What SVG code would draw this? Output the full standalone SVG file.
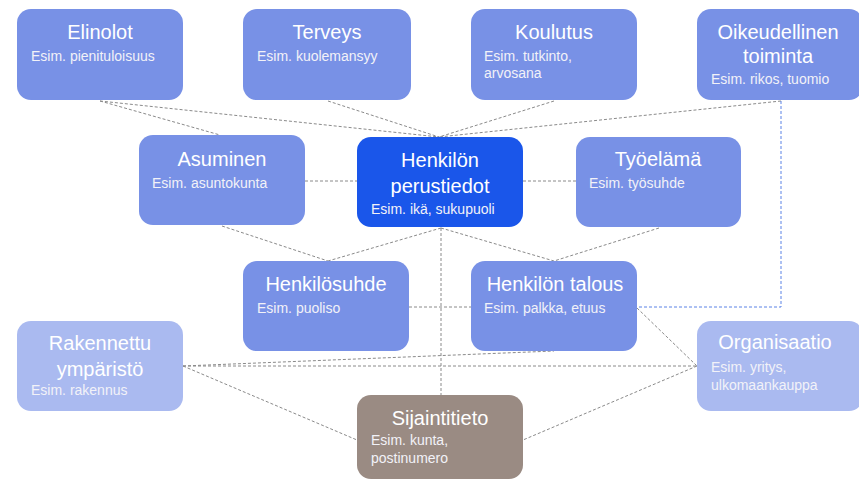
<svg xmlns="http://www.w3.org/2000/svg" width="859" height="480" viewBox="0 0 859 480">
<defs>
<style>
.box{stroke:none}
.mid{fill:#7891E6}
.dark{fill:#1A56EA}
.light{fill:#AABAF0}
.brown{fill:#9A8B83}
.t{font-family:"Liberation Sans",Arial,sans-serif;font-size:20px;fill:#ffffff;text-anchor:middle}
.s{font-family:"Liberation Sans",Arial,sans-serif;font-size:14px;fill:#F2F2F8}
.c{fill:none;stroke:#8A8A8A;stroke-width:1;stroke-dasharray:3 2}
.b{fill:none;stroke:#5A82E6;stroke-width:1;stroke-dasharray:3 2}
</style>
</defs>
<rect width="859" height="480" fill="#ffffff"/>
<g id="connectors">
<line class="c" x1="100" y1="101" x2="220" y2="135"/>
<line class="c" x1="100" y1="101" x2="439" y2="137"/>
<line class="c" x1="328" y1="101" x2="439" y2="137"/>
<line class="c" x1="554" y1="101" x2="439" y2="137"/>
<line class="c" x1="781" y1="101" x2="439" y2="137"/>
<line class="c" x1="305" y1="181" x2="357" y2="181"/>
<line class="c" x1="523" y1="181" x2="576" y2="181"/>
<line class="c" x1="222" y1="226" x2="328" y2="261"/>
<line class="c" x1="441" y1="228" x2="328" y2="261"/>
<line class="c" x1="441" y1="228" x2="554" y2="261"/>
<line class="c" x1="659" y1="228" x2="554" y2="261"/>
<line class="c" x1="441" y1="228" x2="441" y2="395"/>
<line class="c" x1="409" y1="307" x2="471" y2="307"/>
<line class="c" x1="183" y1="366" x2="554" y2="351"/>
<line class="c" x1="183" y1="366" x2="697" y2="366"/>
<line class="c" x1="183" y1="366" x2="357" y2="440"/>
<line class="c" x1="697" y1="366" x2="523" y2="440"/>
<line class="c" x1="637" y1="308" x2="697" y2="366"/>
<polyline class="b" points="781,101 781,307 637,307"/>
</g>
<g id="elinolot">
<rect class="box mid" x="17" y="9" width="166" height="91" rx="14"/>
<text class="t" x="100" y="39">Elinolot</text>
<text class="s" x="31" y="61">Esim. pienituloisuus</text>
</g>
<g id="terveys">
<rect class="box mid" x="243" y="9" width="168" height="91" rx="14"/>
<text class="t" x="327" y="39">Terveys</text>
<text class="s" x="257" y="61">Esim. kuolemansyy</text>
</g>
<g id="koulutus">
<rect class="box mid" x="471" y="9" width="166" height="91" rx="14"/>
<text class="t" x="554" y="39">Koulutus</text>
<text class="s" x="484" y="61">Esim. tutkinto,</text>
<text class="s" x="484" y="78">arvosana</text>
</g>
<g id="oikeudellinen">
<rect class="box mid" x="697" y="9" width="166" height="91" rx="14"/>
<text class="t" x="778" y="39">Oikeudellinen</text>
<text class="t" x="778" y="63">toiminta</text>
<text class="s" x="711" y="84">Esim. rikos, tuomio</text>
</g>
<g id="asuminen">
<rect class="box mid" x="139" y="135" width="166" height="90" rx="14"/>
<text class="t" x="222" y="166">Asuminen</text>
<text class="s" x="152" y="188">Esim. asuntokunta</text>
</g>
<g id="perustiedot">
<rect class="box dark" x="357" y="137" width="166" height="90" rx="14"/>
<text class="t" x="440" y="167">Henkilön</text>
<text class="t" x="440" y="193">perustiedot</text>
<text class="s" x="371" y="214">Esim. ikä, sukupuoli</text>
</g>
<g id="tyoelama">
<rect class="box mid" x="576" y="137" width="165" height="90" rx="14"/>
<text class="t" x="658" y="166">Työelämä</text>
<text class="s" x="589" y="188">Esim. työsuhde</text>
</g>
<g id="henkilosuhde">
<rect class="box mid" x="243" y="261" width="166" height="90" rx="14"/>
<text class="t" x="326" y="291">Henkilösuhde</text>
<text class="s" x="257" y="313">Esim. puoliso</text>
</g>
<g id="talous">
<rect class="box mid" x="471" y="261" width="166" height="90" rx="14"/>
<text class="t" x="555" y="291">Henkilön talous</text>
<text class="s" x="484" y="313">Esim. palkka, etuus</text>
</g>
<g id="rakennettu">
<rect class="box light" x="17" y="321" width="166" height="90" rx="14"/>
<text class="t" x="100" y="350">Rakennettu</text>
<text class="t" x="100" y="376">ympäristö</text>
<text class="s" x="31" y="395">Esim. rakennus</text>
</g>
<g id="organisaatio">
<rect class="box light" x="697" y="321" width="166" height="90" rx="14"/>
<text class="t" x="775" y="349">Organisaatio</text>
<text class="s" x="711" y="372">Esim. yritys,</text>
<text class="s" x="711" y="390">ulkomaankauppa</text>
</g>
<g id="sijaintitieto">
<rect class="box brown" x="357" y="395" width="166" height="84" rx="14"/>
<text class="t" x="440" y="425">Sijaintitieto</text>
<text class="s" x="371" y="445">Esim. kunta,</text>
<text class="s" x="371" y="463">postinumero</text>
</g>
</svg>
